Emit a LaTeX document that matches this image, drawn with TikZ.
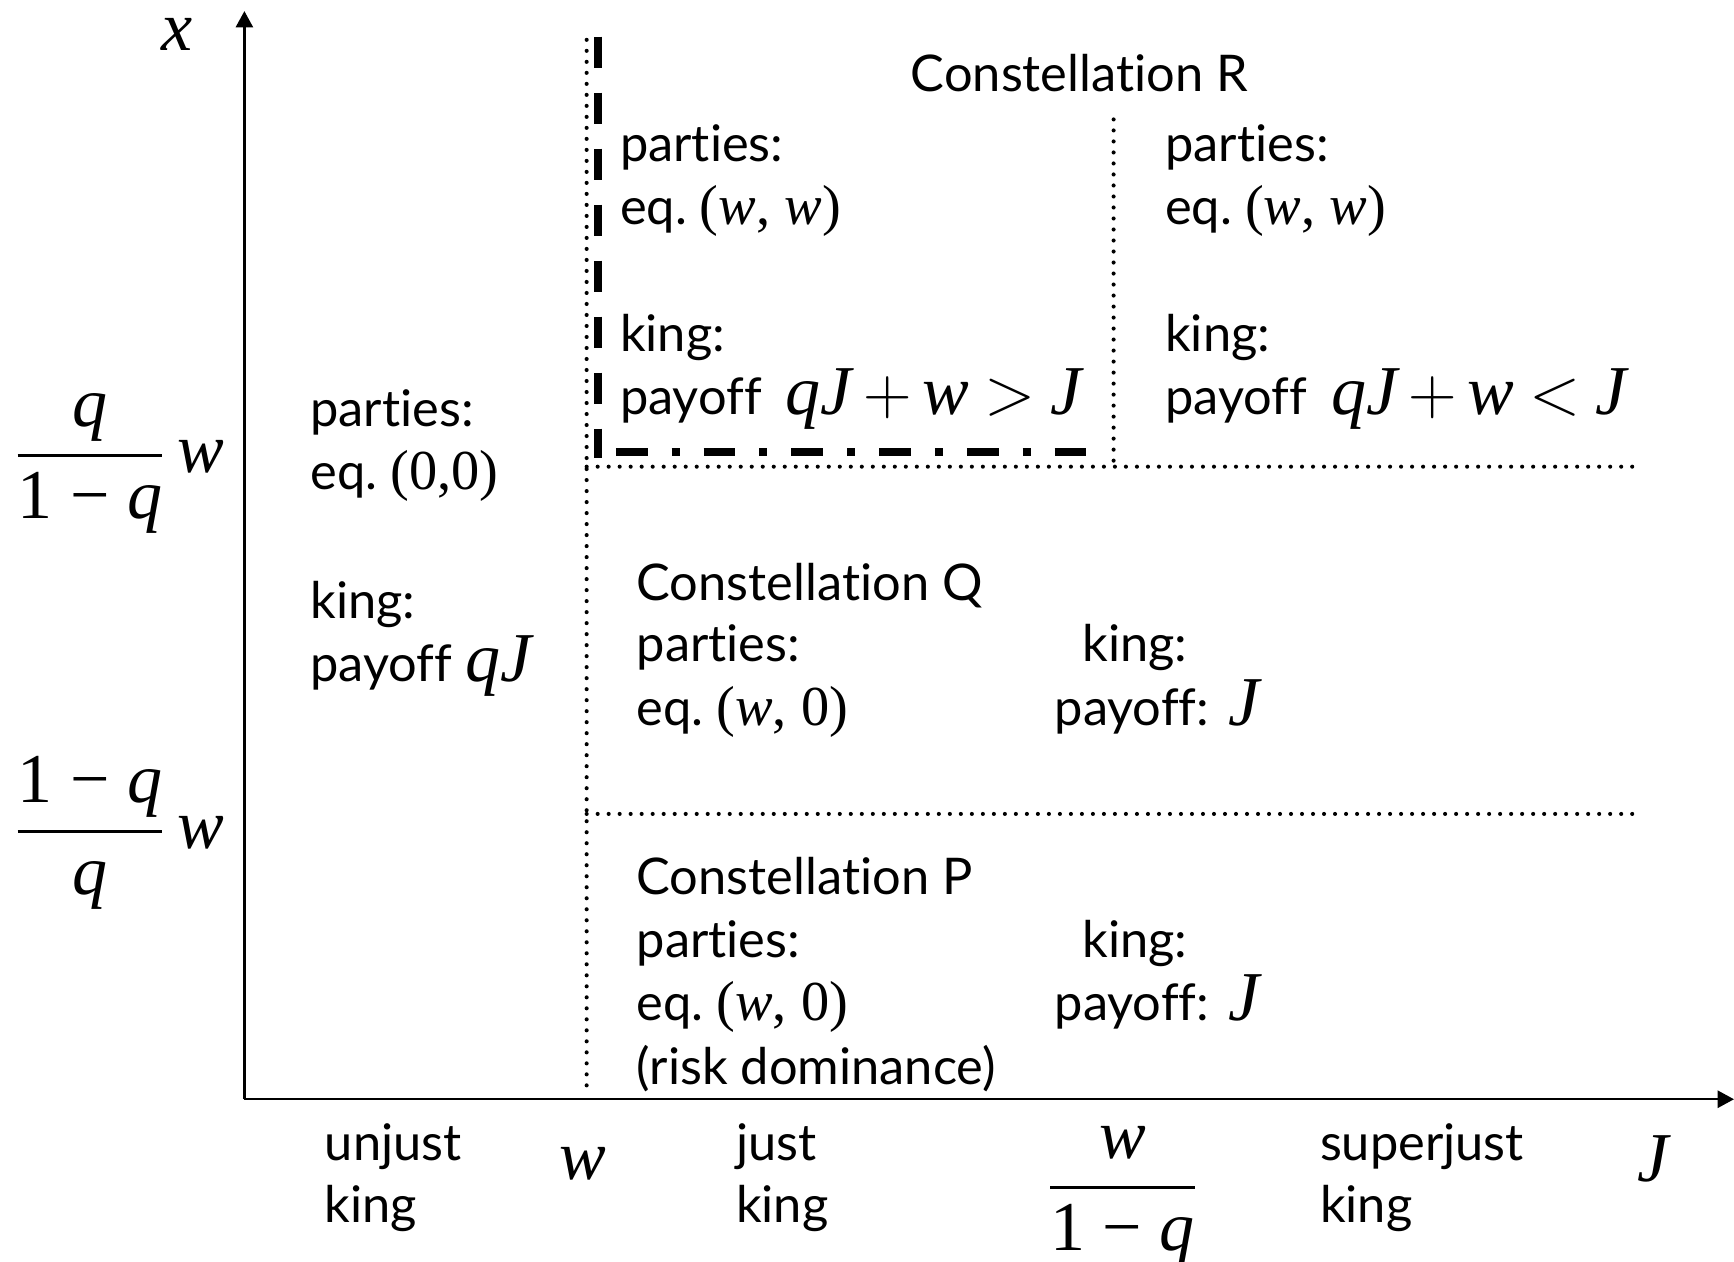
\documentclass[tikz,border=0pt]{standalone}
\usepackage{amsmath}
\usepackage{fontspec}
\setmainfont{Lato}[Ligatures=NoCommon]
\newfontfamily\mf{Liberation Serif}
\usetikzlibrary{arrows.meta}
\newcommand{\MV}[1]{\mbox{\mf\itshape #1}}
\newcommand{\MR}[1]{\mbox{\mf #1}}
\newcommand{\mtxt}[1]{{\mf\fontsize{14.5}{17}\selectfont #1}}
\newcommand{\mbig}[1]{{\fontsize{18}{21}\selectfont\medmuskip=3mu\thickmuskip=4mu$#1$}}
\begin{document}
\begin{tikzpicture}[x=0.01cm,y=-0.01cm,
  txt/.style={anchor=base west,inner sep=0pt,font=\fontsize{13}{16}\selectfont},
  mth/.style={inner sep=0pt},
  axisline/.style={line width=0.6pt,-{Triangle[length=4.2pt,width=4.4pt]}},
  dotline/.style={line width=1.05pt,line cap=round,dash pattern=on 0pt off 2.83pt},
  thickdash/.style={line width=2.05pt,dash pattern=on 8.2pt off 6.2pt},
  thickdashdot/.style={line width=2.1pt,dash pattern=on 8.17pt off 6.17pt on 2.05pt off 6.17pt}]
\useasboundingbox (0,0) rectangle (1568,1141);
% coordinates
\coordinate (O) at (221,994);
\coordinate (ytop) at (221,10);
\coordinate (xend) at (1568,994);
\coordinate (v1t) at (530.5,36);
\coordinate (v1b) at (530.5,991);
\coordinate (v2t) at (1007,108);
\coordinate (v2b) at (1007,422);
\coordinate (h1l) at (530.5,422);
\coordinate (h1r) at (1476,422);
\coordinate (h2l) at (530.5,736);
\coordinate (h2r) at (1476,736);
\coordinate (tvt) at (541,33);
\coordinate (tvb) at (541,414);
\coordinate (thl) at (557,409);
\coordinate (thr) at (985,409);
% axes
\draw[axisline] (O) -- (ytop);
\draw[axisline] (O) -- (xend);
% region lines
\draw[dotline] (v1t) -- (v1b);
\draw[dotline] (v2t) -- (v2b);
\draw[dotline] (h1l) -- (h1r);
\draw[dotline] (h2l) -- (h2r);
\draw[thickdash] (tvt) -- (tvb);
\draw[thickdashdot] (thl) -- (thr);
% axis labels
\node[mth,anchor=base] (xlab) at (160,46) {\mbig{\MV{x}}};
\node[mth,anchor=base west] (f1) at (11,427) {\mbig{\dfrac{\MV{q}}{\MR{1 − }\MV{q}}\,\MV{w}}};
\node[mth,anchor=base west] (f2) at (11,767) {\mbig{\dfrac{\MR{1 − }\MV{q}}{\MV{q}}\,\MV{w}}};
\node[mth,anchor=base] (wlab) at (527,1067) {\mbig{\MV{w}}};
\node[mth,anchor=base] (wq) at (1015,1089) {\mbig{\dfrac{\MV{w}}{\MR{1 − }\MV{q}}}};
\node[mth,anchor=base] (Jlab) at (1495,1068) {\mbig{\MV{J}}};
% bottom labels
\node[txt] (u1) at (293,1049) {unjust};
\node[txt] (u2) at (293,1105) {king};
\node[txt] (j1) at (665,1049) {just};
\node[txt] (j2) at (665,1105) {king};
\node[txt] (s1) at (1193,1049) {superjust};
\node[txt] (s2) at (1193,1105) {king};
% Constellation R
\node[txt] (cR) at (823,83) {Constellation R};
\node[txt] (r1) at (560,146) {parties:};
\node[txt] (r2) at (560,203) {eq.\ \mtxt{(\textit{w}, \textit{w})}};
\node[txt] (r3) at (560,318) {king:};
\node[txt] (r4) at (560,375) {payoff};
\node[txt] (r5) at (710,375) {\mbig{\MV{q}\MV{J}+\MV{w}>\MV{J}}};
\node[txt] (s3) at (1053,146) {parties:};
\node[txt] (s4) at (1053,203) {eq.\ \mtxt{(\textit{w}, \textit{w})}};
\node[txt] (s5) at (1053,318) {king:};
\node[txt] (s6) at (1053,375) {payoff};
\node[txt] (s7) at (1203,375) {\mbig{\MV{q}\MV{J}+\MV{w}<\MV{J}}};
% left region
\node[txt] (l1) at (280,386) {parties:};
\node[txt] (l2) at (280,443) {eq.\ \mtxt{(0,0)}};
\node[txt] (l3) at (280,559) {king:};
\node[txt] (l4) at (280,616) {payoff};
\node[txt] (l5) at (420,616) {\mbig{\MV{q}\MV{J}}};
% Constellation Q
\node[txt] (cQ) at (575,543) {Constellation Q};
\node[txt] (q1) at (575,598) {parties:};
\node[txt] (q2) at (575,656) {eq.\ \mtxt{(\textit{w}, 0)}};
\node[txt] (q3) at (978,598) {king:};
\node[txt] (q4) at (953,656) {payoff:};
\node[txt] (q5) at (1110,656) {\mbig{\MV{J}}};
% Constellation P
\node[txt] (cP) at (575,809) {Constellation P};
\node[txt] (p1) at (575,866) {parties:};
\node[txt] (p2) at (575,923) {eq.\ \mtxt{(\textit{w}, 0)}};
\node[txt] (p3) at (575,981) {(risk dominance)};
\node[txt] (p4) at (978,866) {king:};
\node[txt] (p5) at (953,923) {payoff:};
\node[txt] (p6) at (1110,923) {\mbig{\MV{J}}};
\end{tikzpicture}
\end{document}
